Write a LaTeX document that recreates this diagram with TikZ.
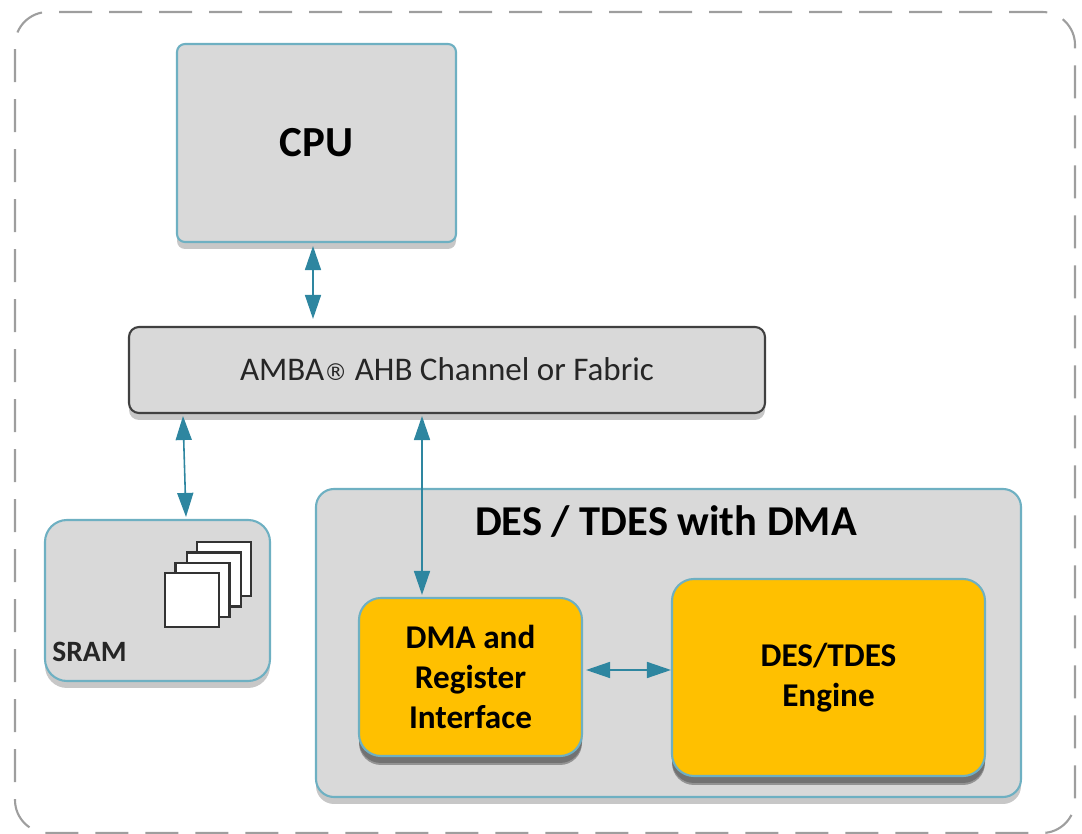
\documentclass[tikz,border=0pt]{standalone}
\usepackage{fontspec}
\setmainfont{Carlito}
\newfontfamily\markfont{DejaVu Sans}
\usetikzlibrary{arrows.meta,shadows}
\definecolor{boxgray}{RGB}{217,217,217}
\definecolor{boxteal}{RGB}{110,176,194}
\definecolor{linkteal}{RGB}{46,134,160}
\definecolor{engineyellow}{RGB}{255,192,0}
\tikzset{
  softshadow/.style={drop shadow={shadow xshift=0cm,shadow yshift=-0.07cm,fill=black,opacity=0.22}},
  darkshadow/.style={drop shadow={shadow xshift=0cm,shadow yshift=-0.09cm,fill=black,opacity=0.32}},
  block/.style={draw=boxteal,line width=0.6pt,fill=boxgray,inner sep=0pt,align=center,softshadow},
  yellowblock/.style={block,fill=engineyellow,darkshadow,font=\fontsize{9.45}{11.3}\selectfont\bfseries},
  memsheet/.style={draw=black!80,line width=0.6pt,fill=white,minimum size=0.54cm,inner sep=0pt},
  link/.style={draw=linkteal,line width=0.45pt,{Triangle[length=0.24cm,width=0.16cm]}-{Triangle[length=0.24cm,width=0.16cm]}}
}
\begin{document}
\begin{tikzpicture}
    \useasboundingbox (0,0) rectangle (10.82,8.34);
    % Outer frame
    \node[draw=black!38,line width=0.6pt,dash pattern=on 0.33cm off 0.17cm,rounded corners=0.33cm,minimum width=10.6cm,minimum height=8.21cm] (frame) at (5.45,4.115) {};

    % Main components
    \node[block,rounded corners=0.08cm,minimum width=2.79cm,minimum height=1.98cm,font=\fontsize{12.2}{14}\selectfont\bfseries] (cpu) at (3.165,6.91) {\raisebox{0.02cm}{CPU}};
    \node[block,draw=black!75,rounded corners=0.1cm,minimum width=6.36cm,minimum height=0.86cm,font=\fontsize{9.4}{11}\selectfont,text=black!85] (bus) at (4.47,4.64) {\raisebox{0.01cm}{AMBA{\markfont\fontsize{6.6}{9}\selectfont ®} AHB Channel or Fabric}};
    \node[block,rounded corners=0.22cm,minimum width=2.25cm,minimum height=1.61cm] (sram) at (1.575,2.335) {};
    \node[block,rounded corners=0.18cm,minimum width=7.05cm,minimum height=3.08cm] (des) at (6.685,1.91) {};
    \node[yellowblock,rounded corners=0.22cm,minimum width=2.23cm,minimum height=1.58cm] (dma) at (4.705,1.57) {DMA and\\Register\\Interface};
    \node[yellowblock,rounded corners=0.22cm,minimum width=3.13cm,minimum height=1.97cm] (engine) at (8.285,1.565) {DES/TDES\\Engine};

    % Labels
    \node[font=\fontsize{12.1}{14}\selectfont\bfseries] (destitle) at (6.66,3.12) {DES / TDES with DMA};
    \node[font=\fontsize{8.4}{10}\selectfont\bfseries,text=black!85] (sramtitle) at (0.895,1.82) {SRAM};

    % Memory sheets
    \foreach \name/\x/\y in {sheetd/2.24/2.65,sheetc/2.14/2.545,sheetb/2.025/2.44,sheeta/1.92/2.34}
        \node[memsheet] (\name) at (\x,\y) {};

    % Connections
    \draw[link] ([xshift=-0.035cm,yshift=-0.03cm]cpu.south) -- ([xshift=-1.34cm,yshift=0.07cm]bus.north);
    \draw[link] ([xshift=-2.64cm,yshift=-0.02cm]bus.south) -- ([xshift=0.285cm,yshift=0.02cm]sram.north);
    \draw[link] ([xshift=-0.25cm,yshift=-0.02cm]bus.south) -- ([xshift=-0.485cm,yshift=0.02cm]dma.north);
    \draw[link] ([xshift=0.03cm,yshift=0.07cm]dma.east) -- ([yshift=0.075cm]engine.west);
\end{tikzpicture}
\end{document}
